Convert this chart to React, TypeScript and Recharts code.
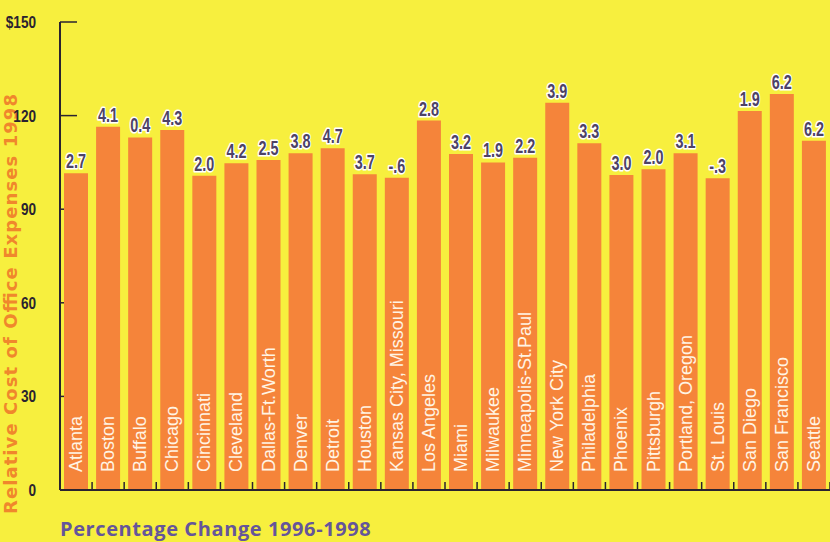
import React from 'react';
import { BarChart, Bar, XAxis, YAxis, CartesianGrid, LabelList } from 'recharts';

const cities = [
  'Atlanta', 'Boston', 'Buffalo', 'Chicago', 'Cincinnati', 'Cleveland', 'Dallas-Ft.Worth', 'Denver',
  'Detroit', 'Houston', 'Kansas City, Missouri', 'Los Angeles', 'Miami', 'Milwaukee', 'Minneapolis-St.Paul',
  'New York City', 'Philadelphia', 'Phoenix', 'Pittsburgh', 'Portland, Oregon', 'St. Louis', 'San Diego',
  'San Francisco', 'Seattle',
];
const costs = [
  101.5, 116.4, 113, 115.4, 100.7, 104.7, 105.8, 107.9, 109.5, 101.2, 100.1, 118.4,
  107.7, 105, 106.5, 124.1, 111.1, 101, 102.8, 107.9, 99.9, 121.5, 126.9, 111.9,
];
const changes = [
  '2.7', '4.1', '0.4', '4.3', '2.0', '4.2', '2.5', '3.8', '4.7', '3.7', '-.6', '2.8',
  '3.2', '1.9', '2.2', '3.9', '3.3', '3.0', '2.0', '3.1', '-.3', '1.9', '6.2', '6.2',
];
const yTicks = [0, 30, 60, 90, 120, 150];
const yTitle = 'Relative Cost of Office Expenses 1998';
const xTitle = 'Percentage Change 1996-1998';

const data = cities.map((city, i) => ({ city, cost: costs[i], change: changes[i] }));

const W = 830;
const H = 542;
const M = { top: 22, right: 0, bottom: 0, left: 0 };
const Y_AXIS_W = 60;
const X_AXIS_H = 52;
const AXIS_Y = H - X_AXIS_H;
const BAND = (W - Y_AXIS_W - M.right) / cities.length;

const BG = '#f7ef3e';
const BAR = '#f5843a';
const DARK = '#2a2330';
const LABEL = '#4d4266';

const ValueLabel = (props: any) => {
  const { x, y, width, value } = props;
  const cx = x + width / 2;
  return (
    <g transform={`translate(${cx},${y - 5}) scale(0.72,1.05)`}>
      <text
        x={0}
        y={0}
        textAnchor="middle"
        fontFamily="'Liberation Sans', Arial, sans-serif"
        fontWeight="bold"
        fontSize={20}
        fill={LABEL}
        stroke="#ffffff"
        strokeWidth={3}
        paintOrder="stroke"
        strokeLinejoin="round"
      >
        {value}
      </text>
    </g>
  );
};

const CityLabel = (props: any) => {
  const { x, width, value } = props;
  const bx = x + width / 2 + 6;
  const by = AXIS_Y - 18;
  return (
    <text
      x={bx}
      y={by}
      transform={`rotate(-90 ${bx} ${by})`}
      textAnchor="start"
      fontFamily="'Liberation Sans', Arial, sans-serif"
      fontSize={18}
      fill="#fff4e4"
    >
      {value}
    </text>
  );
};

const XTick = (props: any) => {
  const { x } = props;
  const tx = x + BAND / 2;
  return <line x1={tx} x2={tx} y1={AXIS_Y} y2={AXIS_Y - 8} stroke={DARK} strokeWidth={1.5} />;
};

const YTick = (props: any) => {
  const { x, y, payload } = props;
  const v = payload.value;
  return (
    <g transform={`translate(${x - 16},${y + 6}) scale(0.85,1)`}>
      <text
        x={0}
        y={0}
        textAnchor="end"
        fontFamily="'Liberation Sans', Arial, sans-serif"
        fontWeight="bold"
        fontSize={16}
        fill={DARK}
      >
        {v === 150 ? `$${v}` : v}
      </text>
    </g>
  );
};

const GridTick = (props: any) => {
  const { x1, y1 } = props;
  return <line key={`g-${y1}`} x1={x1} x2={x1 + 17} y1={y1} y2={y1} stroke={DARK} strokeWidth={1.5} />;
};

const YTitle = () => {
  const tx = 17;
  const ty = 514;
  return (
    <text
      x={tx}
      y={ty}
      transform={`rotate(-90 ${tx} ${ty})`}
      fontFamily="'DejaVu Sans', 'Liberation Sans', Arial, sans-serif"
      fontWeight="bold"
      fontSize={18}
      textLength={420}
      lengthAdjust="spacing"
      fill="#f0872c"
    >
      {yTitle}
    </text>
  );
};

export default function App() {
  return (
    <div style={{ position: 'absolute', left: 0, top: 0, width: W, height: H, background: BG, overflow: 'hidden' }}>
      <BarChart width={W} height={H} data={data} margin={M} barSize={24}>
        <CartesianGrid horizontal={GridTick as any} vertical={false} stroke={DARK} />
        <XAxis
          dataKey="city"
          height={X_AXIS_H}
          axisLine={{ stroke: DARK, strokeWidth: 2 }}
          tickLine={false}
          tick={XTick}
          interval={0}
        />
        <YAxis
          width={Y_AXIS_W}
          domain={[0, 150]}
          ticks={yTicks}
          interval={0}
          axisLine={{ stroke: DARK, strokeWidth: 2 }}
          tickLine={false}
          tick={YTick}
          label={<YTitle />}
        />
        <Bar dataKey="cost" fill={BAR} isAnimationActive={false}>
          <LabelList dataKey="change" content={ValueLabel} />
          <LabelList dataKey="city" content={CityLabel} />
        </Bar>
      </BarChart>
      <div
        style={{
          position: 'absolute',
          left: 60,
          top: 516,
          fontFamily: "'Open Sans', 'Noto Sans', sans-serif",
          fontWeight: 700,
          fontSize: 20,
          letterSpacing: '0.6px',
          color: '#65559a',
          whiteSpace: 'nowrap',
          lineHeight: '26px',
        }}
      >
        {xTitle}
      </div>
    </div>
  );
}
